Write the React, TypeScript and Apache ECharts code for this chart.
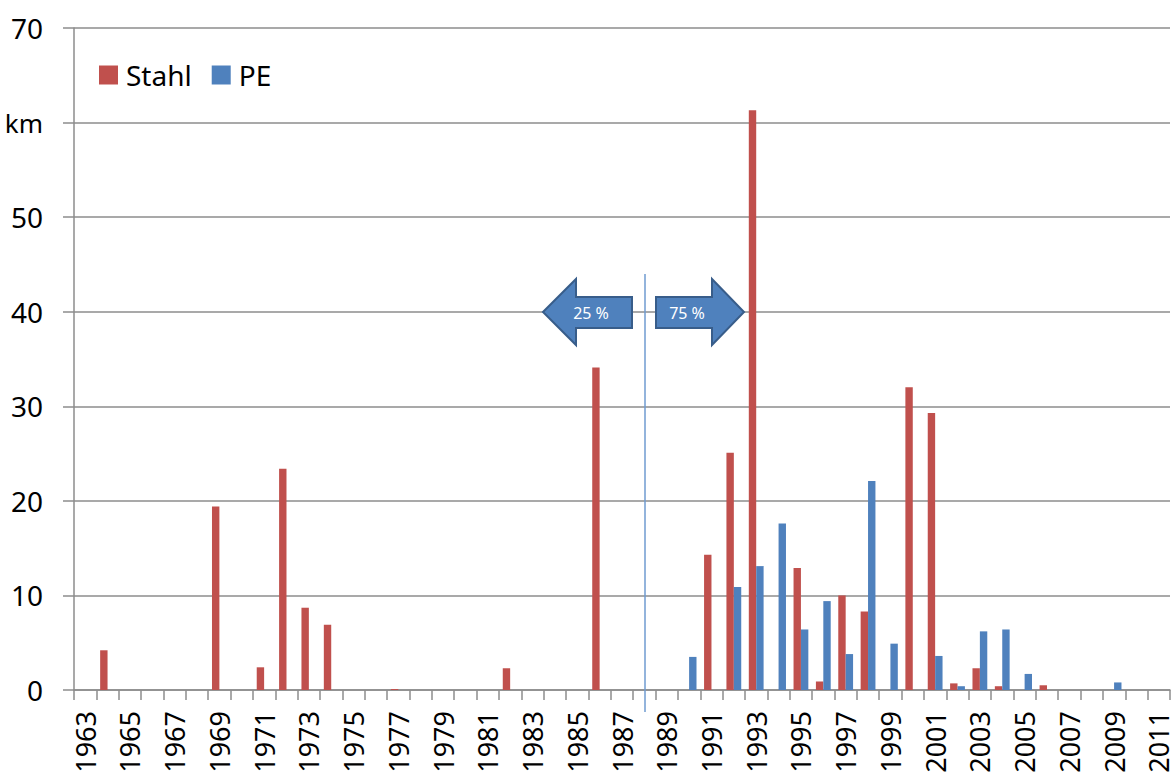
import React, { useEffect, useRef } from "react";
import * as echarts from "echarts";

const years: string[] = [];
for (let y = 1963; y <= 2011; y++) years.push(String(y));

const stahlByYear: Record<string, number> = {
  "1964": 4.2, "1969": 19.4, "1971": 2.4, "1972": 23.4, "1973": 8.7, "1974": 6.9,
  "1977": 0.1, "1982": 2.3, "1986": 34.1, "1991": 14.3, "1992": 25.1, "1993": 61.3,
  "1995": 12.9, "1996": 0.9, "1997": 10.0, "1998": 8.3, "2000": 32.0, "2001": 29.3,
  "2002": 0.7, "2003": 2.3, "2004": 0.4, "2006": 0.5,
};
const peByYear: Record<string, number> = {
  "1990": 3.5, "1992": 10.9, "1993": 13.1, "1994": 17.6, "1995": 6.4, "1996": 9.4,
  "1997": 3.8, "1998": 22.1, "1999": 4.9, "2001": 3.6, "2002": 0.4, "2003": 6.2,
  "2004": 6.4, "2005": 1.7, "2009": 0.8,
};
const stahl = years.map((y) => stahlByYear[y] ?? 0);
const pe = years.map((y) => peByYear[y] ?? 0);

const FONT = "Noto Sans";

export default function App() {
  const ref = useRef<HTMLDivElement>(null);
  useEffect(() => {
    const chart = echarts.init(ref.current!, undefined, { renderer: "svg" });
    chart.setOption({
      animation: false,
      backgroundColor: "#ffffff",
      textStyle: { fontFamily: FONT },
      grid: {
        left: 74,
        right: 5,
        top: 28,
        bottom: 86,
        containLabel: false,
        outerBoundsMode: "none",
      },
      legend: {
        left: 99,
        top: 61,
        padding: 0,
        itemWidth: 19,
        itemHeight: 19,
        itemGap: 20,
        icon: "rect",
        textStyle: { fontFamily: FONT, fontSize: 28, color: "#000", padding: [0, 0, 0, 3] },
        data: ["Stahl", "PE"],
      },
      xAxis: {
        type: "category",
        data: years,
        axisLine: { lineStyle: { color: "#8c8c8c", width: 1.5 } },
        axisTick: { show: true, interval: 0, length: 10, lineStyle: { color: "#8c8c8c", width: 1.5 } },
        axisLabel: {
          interval: 1,
          rotate: 90,
          fontSize: 27,
          lineHeight: 22,
          fontFamily: FONT,
          color: "#000",
          margin: 21,
        },
      },
      yAxis: {
        type: "value",
        min: 0,
        max: 70,
        interval: 10,
        axisLine: { show: true, lineStyle: { color: "#8c8c8c", width: 1.5 } },
        axisTick: { show: true, length: 11, lineStyle: { color: "#8c8c8c", width: 1.5 } },
        splitLine: { lineStyle: { color: "#8c8c8c", width: 1.5 } },
        axisLabel: {
          fontSize: 28,
          fontFamily: FONT,
          color: "#000",
          margin: 31,
          formatter: (v: number) => (v === 60 ? "{k|km}" : String(v)),
          rich: { k: { fontSize: 26, fontFamily: FONT, color: "#000" } },
        },
      },
      series: [
        {
          name: "Stahl",
          type: "bar",
          data: stahl,
          barWidth: 7.4,
          barGap: "0%",
          itemStyle: { color: "#c0504d" },
        },
        {
          name: "PE",
          type: "bar",
          data: pe,
          barWidth: 7.4,
          itemStyle: { color: "#4f81bd" },
        },
      ],
      graphic: [
        {
          type: "line",
          shape: { x1: 645, y1: 274, x2: 645, y2: 712 },
          style: { stroke: "#6f9bd1", lineWidth: 1.5 },
          z: 10,
        },
        {
          type: "polygon",
          shape: {
            points: [
              [543, 312], [576, 279], [576, 297], [632, 297], [632, 328], [576, 328], [576, 345],
            ],
          },
          style: { fill: "#4f81bd", stroke: "#385d8a", lineWidth: 2 },
          z: 10,
        },
        {
          type: "polygon",
          shape: {
            points: [
              [656, 297], [712, 297], [712, 279], [744, 312], [712, 345], [712, 328], [656, 328],
            ],
          },
          style: { fill: "#4f81bd", stroke: "#385d8a", lineWidth: 2 },
          z: 10,
        },
        {
          type: "text",
          x: 591,
          y: 313,
          style: {
            text: "25 %",
            fill: "#ffffff",
            font: `16px "${FONT}"`,
            align: "center",
            verticalAlign: "middle",
          },
          z: 11,
        },
        {
          type: "text",
          x: 687,
          y: 313,
          style: {
            text: "75 %",
            fill: "#ffffff",
            font: `16px "${FONT}"`,
            align: "center",
            verticalAlign: "middle",
          },
          z: 11,
        },
      ],
    });
    return () => chart.dispose();
  }, []);
  return (
    <div
      ref={ref}
      style={{ position: "fixed", left: 0, top: 0, width: 1175, height: 776, background: "#fff" }}
    />
  );
}
